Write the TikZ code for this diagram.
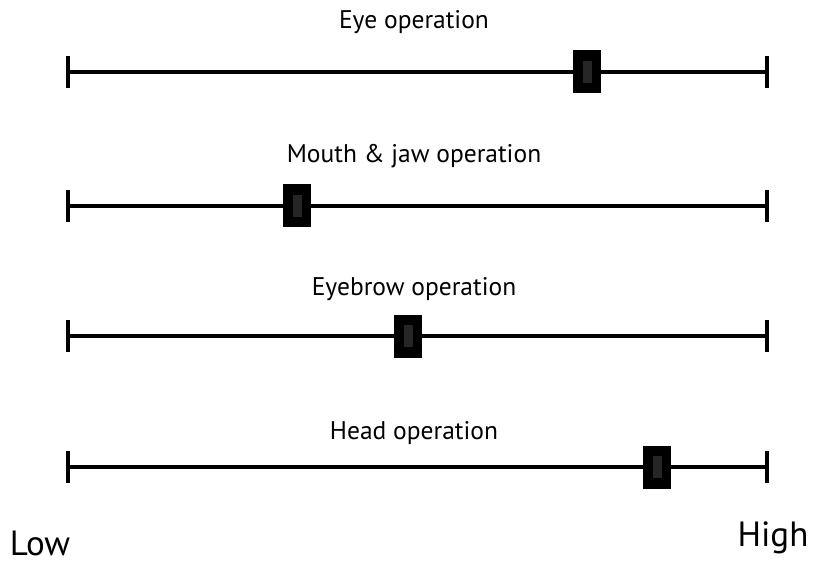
\documentclass[tikz,border=0pt]{standalone}
\usepackage{fontspec}
\setmainfont{PT Sans}
\begin{document}
\begin{tikzpicture}[x=1pt,y=-1pt,
  scaleline/.style={line width=4pt,black},
  endtick/.style={line width=4.5pt,black},
  slider/.style={fill=black,draw=none,minimum width=28pt,minimum height=43pt,inner sep=0pt},
  sliderin/.style={fill=black!85,draw=none,minimum width=9pt,minimum height=22pt,inner sep=0pt},
  caption/.style={font=\fontsize{25.5}{28}\selectfont,anchor=center},
  endlabel/.style={font=\fontsize{35}{40}\selectfont,anchor=base,inner sep=0pt}]
\useasboundingbox (0,0) rectangle (813,561);
% four rating scales: name, y position, slider x position, title
\foreach \n/\yy/\sx/\t/\ty in {eye/72/587/Eye operation/22,
                               mouth/206/297/Mouth \& jaw operation/156,
                               brow/336/408/Eyebrow operation/289,
                               head/467/657/Head operation/433}{
  \coordinate (\n L) at (68,\yy);
  \coordinate (\n R) at (767,\yy);
  \draw[scaleline] (\n L) -- (\n R);
  \draw[endtick] ([yshift=-16pt]\n L) -- ([yshift=16pt]\n L);
  \draw[endtick] ([yshift=-16pt]\n R) -- ([yshift=16pt]\n R);
  \node[slider] (\n S) at (\sx,\yy) {};
  \node[sliderin] (\n I) at (\n S) {};
  \node[caption] (\n T) at (414,\ty) {\t};
}
\node[endlabel] (low) at (40,555) {Low};
\node[endlabel] (high) at (773,546) {High};
\end{tikzpicture}
\end{document}
